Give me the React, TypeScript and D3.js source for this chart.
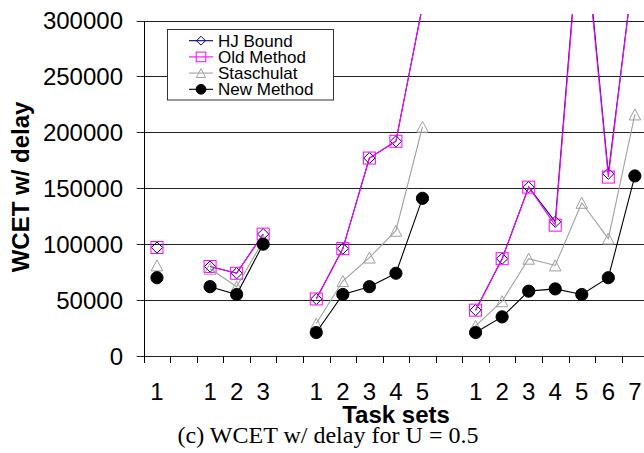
import React from "react";
import * as d3 from "d3";

const slotLabels = ["1", "", "1", "2", "3", "", "1", "2", "3", "4", "5", "", "1", "2", "3", "4", "5", "6", "7"];
const hjBound = [97000, null, 80000, 74000, 109000, null, 51000, 96000, 177000, 192000, 313000, null, 41000, 87000, 151000, 120000, 410000, 163000, 355000];
const oldMethod = [97000, null, 80000, 74000, 109000, null, 51000, 96000, 177000, 192000, 313000, null, 41000, 87000, 151000, 117000, 405000, 160000, 355000];
const staschulat = [81000, null, 78000, 62000, 103000, null, 29000, 67000, 88000, 112000, 205000, null, 27000, 49000, 87000, 81000, 137000, 105000, 216000];
const newMethod = [70000, null, 62000, 55000, 100000, null, 21000, 55000, 62000, 74000, 141000, null, 21000, 35000, 58000, 60000, 55000, 70000, 161000];
const yTicks = [0, 50000, 100000, 150000, 200000, 250000, 300000];
const seriesNames = ["HJ Bound", "Old Method", "Staschulat", "New Method"];

const W = 644, H = 453;
const left = 143.7, right = 143.7 + 19 * 26.55, top = 20.5, bottom = 356;

type Kind = "diamond" | "square" | "triangle" | "circle";

function Marker({ kind, x, y, color, s = 1 }: { kind: Kind; x: number; y: number; color: string; s?: number }) {
  if (kind === "diamond") {
    const h = 5.6 * s;
    return <path d={`M${x},${y - h}L${x + h},${y}L${x},${y + h}L${x - h},${y}Z`} fill="none" stroke={color} strokeWidth={1} />;
  }
  if (kind === "square") {
    const h = 6 * s;
    return <rect x={x - h} y={y - h} width={2 * h} height={2 * h} fill="none" stroke={color} strokeWidth={1} />;
  }
  if (kind === "triangle") {
    const w = 5.8 * s, hh = 5.5 * s;
    return <path d={`M${x},${y - hh}L${x + w},${y + hh}L${x - w},${y + hh}Z`} fill="none" stroke={color} strokeWidth={1} />;
  }
  return <circle cx={x} cy={y} r={6.1 * s} fill={color} stroke={color} />;
}

export default function App() {
  const x = d3.scaleBand<string>().domain(slotLabels.map((_, i) => String(i))).range([left, right]).padding(0);
  const y = d3.scaleLinear().domain([0, 300000]).range([bottom, top]);
  const cx = (i: number) => (x(String(i)) as number) + x.bandwidth() / 2;

  const series = [
    { name: seriesNames[0], data: hjBound, color: "#000080", kind: "diamond" as Kind },
    { name: seriesNames[1], data: oldMethod, color: "#FF00FF", kind: "square" as Kind },
    { name: seriesNames[2], data: staschulat, color: "#A0A0A0", kind: "triangle" as Kind },
    { name: seriesNames[3], data: newMethod, color: "#000000", kind: "circle" as Kind },
  ];

  const line = d3
    .line<number | null>()
    .defined((d) => d != null)
    .x((_, i) => cx(i))
    .y((d) => y(d as number));

  const boundaries = d3.range(0, 20).map((k) => left + k * x.bandwidth());

  return (
    <svg width={W} height={H} style={{ position: "absolute", left: 0, top: 0, background: "#fff" }} fontFamily="'Liberation Sans', Arial, sans-serif">
      <defs>
        <clipPath id="plotclip">
          <rect x={left} y={14} width={right - left} height={bottom - 14 + 2} />
        </clipPath>
      </defs>
      {/* gridlines */}
      {yTicks.map((t) => (
        <line key={t} x1={left - 7} x2={right} y1={Math.round(y(t)) + 0.5} y2={Math.round(y(t)) + 0.5} stroke="#222" strokeWidth={1} />
      ))}
      {/* y axis */}
      <line x1={Math.round(left) + 0.5} x2={Math.round(left) + 0.5} y1={Math.round(top)} y2={bottom + 7} stroke="#000" />
      {/* x ticks */}
      {boundaries.map((b, k) => (
        <line key={k} x1={Math.round(b) + 0.5} x2={Math.round(b) + 0.5} y1={bottom} y2={bottom + 7} stroke="#000" />
      ))}
      {/* y labels */}
      {yTicks.map((t) => (
        <text key={t} x={123} y={y(t) + 8.5} textAnchor="end" fontSize={24} fill="#000">
          {t}
        </text>
      ))}
      {/* x labels */}
      {slotLabels.map((l, i) =>
        l ? (
          <text key={i} x={cx(i)} y={400} textAnchor="middle" fontSize={24} fill="#000">
            {l}
          </text>
        ) : null
      )}
      {/* series */}
      <g clipPath="url(#plotclip)">
        {series.map((s) => (
          <g key={s.name}>
            <path d={line(s.data) || ""} fill="none" stroke={s.color} strokeWidth={1.1} />
            {s.data.map((v, i) =>
              v == null || v > 300000 ? null : <Marker key={i} kind={s.kind} x={cx(i)} y={y(v)} color={s.color} />
            )}
          </g>
        ))}
      </g>
      {/* legend */}
      <rect x={167.5} y={29.5} width={166} height={70.5} fill="#fff" stroke="#333" strokeWidth={1} />
      {series.map((s, i) => {
        const ly = 40.7 + i * 16.2;
        return (
          <g key={s.name}>
            <line x1={189} x2={213} y1={ly} y2={ly} stroke={s.color} strokeWidth={1.1} />
            <Marker kind={s.kind} x={201} y={ly} color={s.color} s={0.8} />
            <text x={218} y={ly + 6} fontSize={17} fill="#000">
              {s.name}
            </text>
          </g>
        );
      })}
      {/* axis titles */}
      <text x={396} y={422.5} textAnchor="middle" fontSize={24} fontWeight="bold" fill="#000">
        Task sets
      </text>
      <text transform="translate(28.5,187) rotate(-90)" textAnchor="middle" fontSize={24} fontWeight="bold" fill="#000">
        WCET w/ delay
      </text>
      <text x={328} y={443} textAnchor="middle" fontSize={24} fontFamily="'Liberation Serif', 'Times New Roman', serif" fill="#000" textLength={301} lengthAdjust="spacingAndGlyphs">
        (c) WCET w/ delay for U = 0.5
      </text>
    </svg>
  );
}
